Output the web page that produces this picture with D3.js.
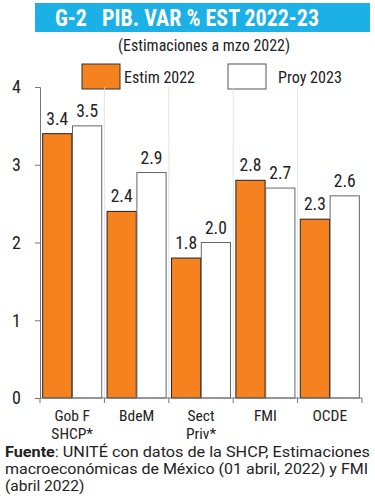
<!DOCTYPE html>
<html><head><meta charset="utf-8">
<script src="https://cdn.jsdelivr.net/npm/d3@7"></script>
<style>
html,body{margin:0;padding:0;background:#fff;}
svg{display:block;font-family:"Roboto Condensed","Liberation Sans Narrow","Roboto",sans-serif;}
</style></head>
<body><svg id="c" width="375" height="500"></svg>
<script>
const categories = [["Gob F","SHCP*"],["BdeM"],["Sect","Priv*"],["FMI"],["OCDE"]];
const seriesNames = ["Estim 2022","Proy 2023"];
const estim2022 = [3.4, 2.4, 1.8, 2.8, 2.3];
const proy2023 = [3.5, 2.9, 2.0, 2.7, 2.6];
const yTicks = [0,1,2,3,4];
const title = "G-2   PIB. VAR % EST 2022-23";
const subtitle = "(Estimaciones a mzo 2022)";
const sourceLines = [
  ["Fuente", ": UNITÉ con datos de la SHCP, Estimaciones"],
  ["", "macroeconómicas de México (01 abril, 2022) y FMI"],
  ["", "(abril 2022)"]
];

(function(){
const svg = d3.select("#c");
const orange = "#f5821f";
const pL = 40, pR = 362, pT = 87, pB = 398;

// Title banner
svg.append("rect").attr("x",35).attr("y",3).attr("width",335).attr("height",29).attr("fill","#1bb0e6");
svg.append("text").attr("x",55).attr("y",26).attr("fill","#fff").attr("font-size",23).attr("font-weight","bold")
  .attr("textLength",264).attr("lengthAdjust","spacingAndGlyphs")
  .style("white-space","pre").text(title);
svg.append("text").attr("x",204).attr("y",51).attr("text-anchor","middle").attr("font-size",16).attr("fill","#222")
  .attr("textLength",172).attr("lengthAdjust","spacingAndGlyphs").text(subtitle);

// Legend
const legX = [82, 228];
const legTX = [124, 278];
const legTW = [71, 64];
seriesNames.forEach((n,i)=>{
  svg.append("rect").attr("x",legX[i]).attr("y",64).attr("width",38).attr("height",25)
    .attr("fill", i===0?orange:"#fff").attr("stroke", i===0?"#333":"#555").attr("stroke-width",1);
  svg.append("text").attr("x",legTX[i]).attr("y",83).attr("font-size",16.5).attr("fill","#222")
    .attr("textLength",legTW[i]).attr("lengthAdjust","spacingAndGlyphs").text(n);
});

const y = d3.scaleLinear().domain([0,4]).range([pB, pT]);
const x0 = d3.scaleBand().domain(d3.range(categories.length)).range([pL, pR]).paddingInner(0).paddingOuter(0);
const x1 = d3.scaleBand().domain([0,1]).range([0, x0.bandwidth()]).paddingOuter(0.09).paddingInner(0.02);

// faint vertical separators
svg.append("g").selectAll("line").data(d3.range(1,categories.length)).join("line")
  .attr("x1",d=>pL + d*x0.bandwidth()).attr("x2",d=>pL + d*x0.bandwidth())
  .attr("y1",pT).attr("y2",pB).attr("stroke","#ddd").attr("stroke-width",0.8);

// y axis
const yAxis = svg.append("g").attr("transform",`translate(${pL},0)`)
  .call(d3.axisLeft(y).tickValues(yTicks).tickFormat(d3.format("d")).tickSize(5).tickPadding(14));
yAxis.attr("font-family",null).attr("font-size",null);
yAxis.select(".domain").attr("stroke","#777");
yAxis.selectAll(".tick line").attr("stroke","#777");
yAxis.selectAll(".tick text").attr("font-size",18).attr("fill","#222");

// bars
const data = categories.map((c,i)=>({i, vals:[estim2022[i], proy2023[i]]}));
const g = svg.append("g");
data.forEach(d=>{
  d.vals.forEach((v,s)=>{
    const bx = x0(d.i) + x1(s);
    g.append("rect").attr("x",bx).attr("y",y(v)).attr("width",x1.bandwidth()).attr("height",y(0)-y(v))
      .attr("fill", s===0?orange:"#fff").attr("stroke", s===0?"#222":"#666").attr("stroke-width",1);
    g.append("text").attr("x",bx + x1.bandwidth()/2).attr("y",y(v)-9).attr("text-anchor","middle")
      .attr("font-size",17.5).attr("fill","#222").text(d3.format(".1f")(v));
  });
});

// x axis
const xAxis = svg.append("g").attr("transform",`translate(0,${pB})`);
xAxis.append("line").attr("x1",pL).attr("x2",pR).attr("y1",0).attr("y2",0).attr("stroke","#777");
xAxis.selectAll("line.t").data(d3.range(categories.length+1)).join("line").attr("class","t")
  .attr("x1",d=>pL+d*x0.bandwidth()).attr("x2",d=>pL+d*x0.bandwidth()).attr("y1",0).attr("y2",5).attr("stroke","#777");
categories.forEach((c,i)=>{
  c.forEach((ln,k)=>{
    xAxis.append("text").attr("x",x0(i)+x0.bandwidth()/2).attr("y",23+k*18).attr("text-anchor","middle")
      .attr("font-size",15.5).attr("fill","#222").text(ln);
  });
});

// Source
const fw = [365, 363, null];
sourceLines.forEach((l,i)=>{
  const t = svg.append("text").attr("x",5).attr("y",457+i*17).attr("font-size",15.5).attr("fill","#222")
    .attr("font-family","Roboto, sans-serif");
  if (fw[i]) t.attr("textLength",fw[i]).attr("lengthAdjust","spacingAndGlyphs");
  if (l[0]) t.append("tspan").attr("font-weight","bold").text(l[0]);
  t.append("tspan").text(l[1]);
});
})();
</script></body></html>
